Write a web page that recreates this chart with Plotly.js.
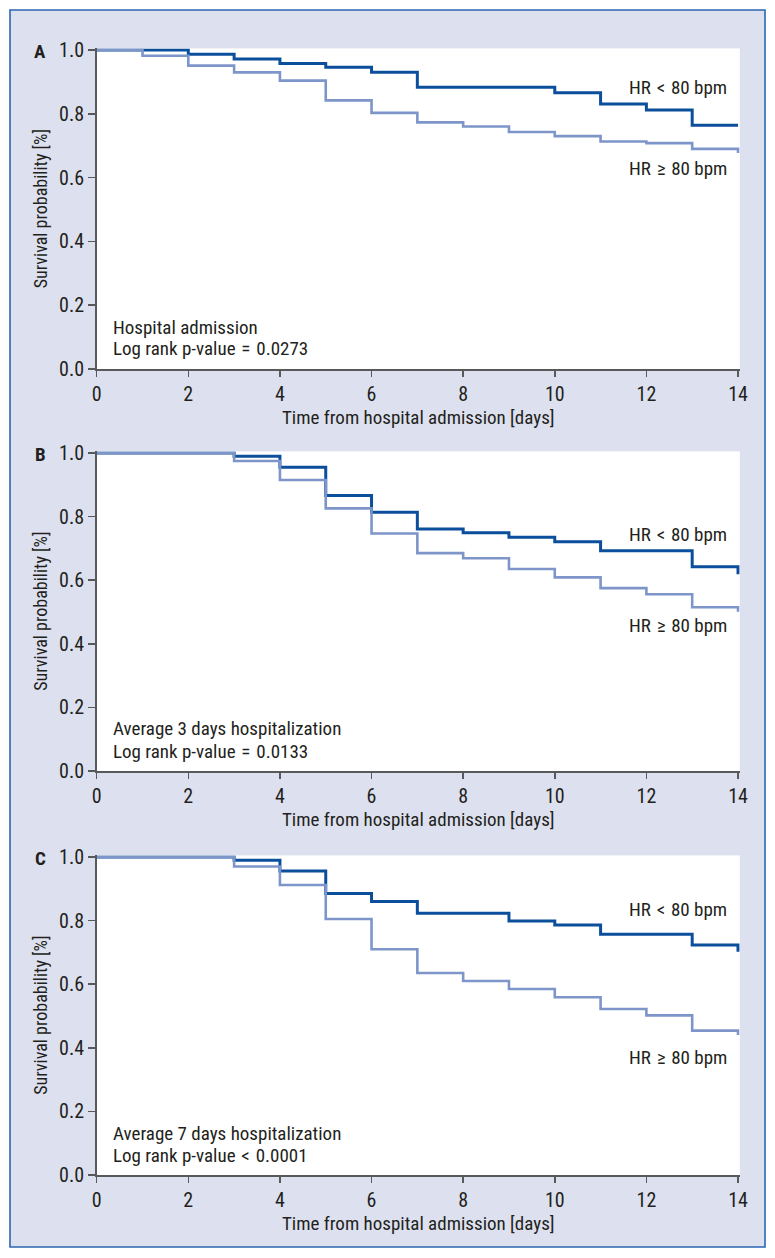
<!DOCTYPE html>
<html>
<head>
<meta charset="utf-8">
<script src="https://cdn.plot.ly/plotly-3.0.1.min.js"></script>
<style>
  html, body { margin: 0; padding: 0; background: #ffffff; }
  #chart { width: 775px; height: 1258px; }
</style>
</head>
<body>
<div id="chart"></div>
<script>
// ---------------- DATA ----------------
const panelLetters = ["A", "B", "C"];
const panelNotes = [
  ["Hospital admission", "Log rank p-value\u2004=\u20040.0273"],
  ["Average 3 days hospitalization", "Log rank p-value\u2004=\u20040.0133"],
  ["Average 7 days hospitalization", "Log rank p-value\u2004&lt;\u20040.0001"]
];
const groupLow = "HR\u2004&lt;\u200480 bpm";
const groupHigh = "HR\u2004≥\u200480 bpm";
const xTickVals = [0, 2, 4, 6, 8, 10, 12, 14];
const yTickVals = [0, 0.2, 0.4, 0.6, 0.8, 1.0];

// Panel A: hospital admission
const timeA_low  = [0, 2, 3, 4, 5, 6, 7, 10, 11, 12, 13, 14];
const survA_low  = [1.0, 0.987, 0.972, 0.958, 0.946, 0.930, 0.883, 0.866, 0.831, 0.812, 0.764, 0.764];
const timeA_high = [0, 1, 2, 3, 4, 5, 6, 7, 8, 9, 10, 11, 12, 13, 14];
const survA_high = [1.0, 0.982, 0.951, 0.930, 0.904, 0.842, 0.803, 0.773, 0.760, 0.743, 0.730, 0.713, 0.708, 0.690, 0.677];

// Panel B: average 3 days hospitalization
const timeB_low  = [0, 3, 4, 5, 6, 7, 8, 9, 10, 11, 13, 14];
const survB_low  = [1.0, 0.990, 0.955, 0.866, 0.814, 0.761, 0.749, 0.735, 0.721, 0.693, 0.642, 0.619];
const timeB_high = [0, 3, 4, 5, 6, 7, 8, 9, 10, 11, 12, 13, 14];
const survB_high = [1.0, 0.975, 0.915, 0.826, 0.747, 0.685, 0.669, 0.635, 0.609, 0.575, 0.556, 0.515, 0.501];

// Panel C: average 7 days hospitalization
const timeC_low  = [0, 3, 4, 5, 6, 7, 9, 10, 11, 13, 14];
const survC_low  = [1.0, 0.990, 0.956, 0.885, 0.860, 0.823, 0.799, 0.786, 0.757, 0.723, 0.702];
const timeC_high = [0, 3, 4, 5, 6, 7, 8, 9, 10, 11, 12, 13, 14];
const survC_high = [1.0, 0.970, 0.912, 0.805, 0.710, 0.635, 0.610, 0.585, 0.559, 0.522, 0.502, 0.454, 0.440];

// label heights (survival value where group labels sit)
const labelLowY  = [0.881, 0.745, 0.836];
const labelHighY = [0.630, 0.459, 0.368];

// ---------------- LAYOUT HELPERS ----------------
const W = 775, H = 1258;
const px = x => x / W;
const py = y => 1 - y / H;
const FONT = '"Liberation Sans Narrow", "Arial Narrow", "Roboto Condensed", sans-serif';
const TXT = '#231f20';
const AX = '#58595b';
const DARK = '#0b4f9c';
const LIGHT = '#7d95c9';

const plotTop = [50, 453, 857];
const plotBot = [369, 771, 1175];
const xLeft = 96.7, xRight = 738;
const XMAX = 14.04, YMAX = 1.005;
const dayPx = (xRight - xLeft) / 14;

const series = [
  [timeA_low, survA_low, timeA_high, survA_high],
  [timeB_low, survB_low, timeB_high, survB_high],
  [timeC_low, survC_low, timeC_high, survC_high]
];

const traces = [];
const layout = {
  width: W, height: H,
  margin: {l: 0, r: 0, t: 0, b: 0},
  paper_bgcolor: '#dde1ef',
  plot_bgcolor: '#ffffff',
  showlegend: false,
  font: {family: FONT, color: TXT, size: 18},
  annotations: [],
  shapes: []
};

series.forEach((s, i) => {
  const sfx = i === 0 ? '' : String(i + 1);
  const xa = 'x' + sfx, ya = 'y' + sfx;
  traces.push({x: s[0], y: s[1], xaxis: xa, yaxis: ya, type: 'scatter', mode: 'lines',
    line: {shape: 'hv', color: DARK, width: 3}, name: 'HR < 80 bpm', hoverinfo: 'x+y'});
  traces.push({x: s[2], y: s[3], xaxis: xa, yaxis: ya, type: 'scatter', mode: 'lines',
    line: {shape: 'hv', color: LIGHT, width: 2.6}, name: 'HR ≥ 80 bpm', hoverinfo: 'x+y'});

  const unit = plotBot[i] - plotTop[i];
  const domTop = plotTop[i] - (YMAX - 1) * unit;
  layout['xaxis' + sfx] = {
    domain: [px(xLeft), px(xLeft + XMAX * dayPx)],
    range: [0, XMAX], anchor: ya,
    tickvals: xTickVals, ticktext: xTickVals.map(String),
    ticks: 'outside', ticklen: 6, tickwidth: 1.5, tickcolor: AX,
    showline: true, linecolor: AX, linewidth: 1.6,
    showgrid: false, zeroline: false, fixedrange: true,
    tickfont: {family: FONT, size: 20, color: TXT},
    title: {text: 'Time from hospital admission [days]', standoff: 0,
            font: {family: FONT, size: 19, color: TXT}}
  };
  layout['yaxis' + sfx] = {
    domain: [py(plotBot[i]), py(domTop)],
    range: [0, YMAX], anchor: xa,
    tickvals: yTickVals, ticktext: yTickVals.map(v => v.toFixed(1)),
    ticks: 'outside', ticklen: 7, tickwidth: 1.5, tickcolor: AX,
    showline: true, linecolor: AX, linewidth: 1.6,
    showgrid: false, zeroline: false, fixedrange: true,
    tickfont: {family: FONT, size: 20, color: TXT},
    title: {text: 'Survival probability [%]', standoff: 7,
            font: {family: FONT, size: 18, color: TXT}}
  };

  // panel letter
  layout.annotations.push({xref: 'paper', yref: 'paper', x: px(40), y: py(plotTop[i] + 1),
    text: '<b>' + panelLetters[i] + '</b>', showarrow: false, xanchor: 'center', yanchor: 'middle',
    font: {family: FONT, size: 19, color: TXT}});
  // group labels
  layout.annotations.push({xref: xa, yref: ya, x: 13.8, y: labelLowY[i], text: groupLow,
    showarrow: false, xanchor: 'right', yanchor: 'middle', font: {family: FONT, size: 19, color: TXT}});
  layout.annotations.push({xref: xa, yref: ya, x: 13.8, y: labelHighY[i], text: groupHigh,
    showarrow: false, xanchor: 'right', yanchor: 'middle', font: {family: FONT, size: 19, color: TXT}});
  // notes
  layout.annotations.push({xref: 'paper', yref: 'paper', x: px(111), y: py(plotBot[i] - 42),
    text: panelNotes[i][0], showarrow: false, xanchor: 'left', yanchor: 'middle',
    font: {family: FONT, size: 19, color: TXT}});
  layout.annotations.push({xref: 'paper', yref: 'paper', x: px(111), y: py(plotBot[i] - 20),
    text: panelNotes[i][1], showarrow: false, xanchor: 'left', yanchor: 'middle',
    font: {family: FONT, size: 19, color: TXT}});
});

// white surround outside the framed figure + blue frame
const fL = 10, fR = 765, fT = 10, fB = 1247;
layout.shapes.push(
  {type: 'rect', xref: 'paper', yref: 'paper', x0: 0, x1: 1, y0: py(fT), y1: 1, fillcolor: '#ffffff', line: {width: 0}, layer: 'above'},
  {type: 'rect', xref: 'paper', yref: 'paper', x0: 0, x1: 1, y0: 0, y1: py(fB), fillcolor: '#ffffff', line: {width: 0}, layer: 'above'},
  {type: 'rect', xref: 'paper', yref: 'paper', x0: 0, x1: px(fL), y0: 0, y1: 1, fillcolor: '#ffffff', line: {width: 0}, layer: 'above'},
  {type: 'rect', xref: 'paper', yref: 'paper', x0: px(fR), x1: 1, y0: 0, y1: 1, fillcolor: '#ffffff', line: {width: 0}, layer: 'above'},
  {type: 'rect', xref: 'paper', yref: 'paper', x0: px(fL), x1: px(fR), y0: py(fB), y1: py(fT),
   fillcolor: 'rgba(0,0,0,0)', line: {color: '#2a66b1', width: 1.6}, layer: 'above'}
);

Plotly.newPlot('chart', traces, layout, {displayModeBar: false, staticPlot: true});
</script>
</body>
</html>
